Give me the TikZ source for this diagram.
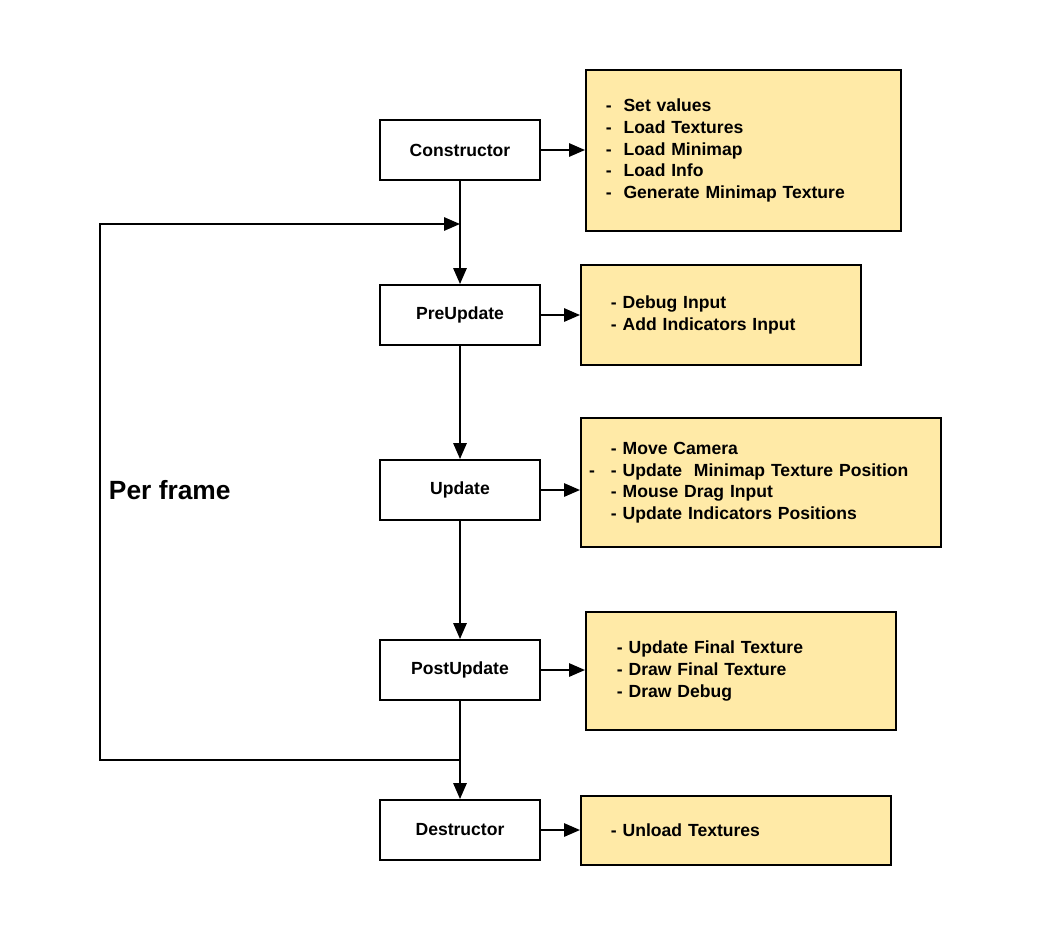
\documentclass[tikz,border=0pt]{standalone}
\usepackage{fontspec}
\setmainfont{Liberation Sans}
\usetikzlibrary{arrows.meta}
\definecolor{notefill}{RGB}{255,234,167}

\begin{document}
\begin{tikzpicture}[x=0.02cm,y=-0.02cm,line width=1.1pt,
  font=\fontsize{10}{12.3}\selectfont\bfseries,
  block/.style={draw,fill=white,minimum width=3.2cm,minimum height=1.2cm},
  note/.style={draw,fill=notefill,align=left,anchor=west},
  >={Triangle[length=9pt,width=7.5pt]}]
\useasboundingbox (0,0) rectangle (1040,940);
\node[block] (con) at (460,150) {Constructor};
\node[block] (pre) at (460,315) {PreUpdate};
\node[block] (upd) at (460,490) {Update};
\node[block] (post) at (460,670) {PostUpdate};
\node[block] (des) at (460,830) {Destructor};
\node[note,minimum width=6.3cm,minimum height=3.22cm,text width=5.5cm,inner xsep=0.4cm] (n1) at (585,150.5)
  {-\ \ Set values\\-\ \ Load Textures\\-\ \ Load Minimap\\-\ \ Load Info\\-\ \ Generate Minimap Texture};
\node[note,minimum width=5.6cm,minimum height=2cm,text width=4.4cm,inner xsep=0.6cm] (n2) at (580,315)
  {- Debug Input\\- Add Indicators Input};
\node[note,minimum width=7.2cm,minimum height=2.58cm,text width=6cm,inner xsep=0.6cm] (n3) at (580,482.5)
  {- Move Camera\\\leavevmode\llap{-\hspace{0.32cm}}- Update\ \ Minimap Texture Position\\- Mouse Drag Input\\- Update Indicators Positions};
\node[note,minimum width=6.2cm,minimum height=2.36cm,text width=4.96cm,inner xsep=0.62cm] (n4) at (585,671)
  {- Update Final Texture\\- Draw Final Texture\\- Draw Debug};
\node[note,minimum width=6.2cm,minimum height=1.38cm,text width=5cm,inner xsep=0.6cm] (n5) at (580,830.5)
  {- Unload Textures};
\node[anchor=west,inner sep=0pt,font=\fontsize{15}{18}\selectfont\bfseries] (pf) at (108,490) {Per frame};
\coordinate (lp1) at (460,760);
\coordinate (lp2) at (460,224);
\draw[->] (con) -- (pre);
\draw[->] (pre) -- (upd);
\draw[->] (upd) -- (post);
\draw[->] (post) -- (des);
\draw[->] (lp1) -- (100,760) -- (100,224) -- (lp2);
\draw[->] (con.east) -- (con.east -| n1.west);
\draw[->] (pre.east) -- (pre.east -| n2.west);
\draw[->] (upd.east) -- (upd.east -| n3.west);
\draw[->] (post.east) -- (post.east -| n4.west);
\draw[->] (des.east) -- (des.east -| n5.west);
\end{tikzpicture}
\end{document}
